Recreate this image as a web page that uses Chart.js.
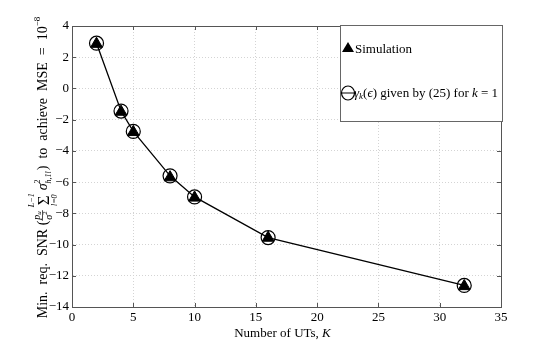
<!DOCTYPE html>
<html>
<head>
<meta charset="utf-8">
<script src="https://cdn.jsdelivr.net/npm/chart.js@4/dist/chart.umd.min.js"></script>
<style>
  html, body { margin: 0; padding: 0; background: #fff; }
  #wrap { width: 554px; height: 346px; }
</style>
</head>
<body>
<div id="wrap"><canvas id="snrChart" width="554" height="346"></canvas></div>
<script>
// data
const unitsK = [2, 4, 5, 8, 10, 16, 32];
const simulationSnr = [2.85, -1.5, -2.8, -5.7, -7.0, -9.57, -12.67];
const analyticSnr = [2.9, -1.45, -2.75, -5.6, -6.95, -9.55, -12.62];
const xTicks = [0, 5, 10, 15, 20, 25, 30, 35];
const yTicks = [-14, -12, -10, -8, -6, -4, -2, 0, 2, 4];

const serif = '"Liberation Serif", "DejaVu Serif", serif';
const setFont = (ctx, size, italic) => {
    ctx.font = `${italic ? 'italic ' : ''}${size}px ${serif}`;
};

// writes a piece of text at (x, dy) and returns its width
const put = (ctx, draw, t, x, size, italic, dy = 0) => {
    setFont(ctx, size, italic);
    if (draw) ctx.fillText(t, x, dy);
    return ctx.measureText(t).width;
};

// y axis title with the little formula, in rotated frame (baseline at 0)
const yTitle = (ctx, draw) => {
    let cx = 0;
    cx += put(ctx, draw, 'Min.  req.  SNR (', cx, 14, false);
    // fraction p_u / sigma^2
    const nw = put(ctx, false, 'p', 0, 10, true) + put(ctx, false, 'u', 0, 7, true);
    const dw = put(ctx, false, 'σ', 0, 10, true) + put(ctx, false, '2', 0, 7, false);
    const fw = Math.max(nw, dw) + 2;
    let nx = cx + (fw - nw) / 2;
    nx += put(ctx, draw, 'p', nx, 10, true, -7.5);
    put(ctx, draw, 'u', nx, 7, true, -6);
    let dx = cx + (fw - dw) / 2;
    dx += put(ctx, draw, 'σ', dx, 10, true, 4.5);
    put(ctx, draw, '2', dx, 7, false, 0);
    if (draw) ctx.fillRect(cx, -5, fw, 0.7);
    cx += fw + 3;
    // sum with limits
    const sw = put(ctx, false, 'Σ', 0, 17, false);
    const tw = put(ctx, false, 'L−1', 0, 8, true);
    const bw = put(ctx, false, 'l=0', 0, 8, true);
    const mw = Math.max(sw, tw, bw);
    put(ctx, draw, 'Σ', cx + (mw - sw) / 2, 17, false, 2);
    put(ctx, draw, 'L−1', cx + (mw - tw) / 2, 8, true, -13);
    put(ctx, draw, 'l=0', cx + (mw - bw) / 2, 8, true, 10);
    cx += mw + 3;
    cx += put(ctx, draw, 'σ', cx, 14, true);
    const a = put(ctx, draw, '2', cx, 8, false, -7);
    const b = put(ctx, draw, 'h,1l', cx, 8, true, 4);
    cx += Math.max(a, b) + 1;
    cx += put(ctx, draw, ')  to  achieve  MSE  =  10', cx, 14, false);
    cx += put(ctx, draw, '−8', cx, 9, false, -7);
    return cx;
};

// frame, inner ticks, titles and legend box
const decorPlugin = {
    id: 'decor',
    afterDraw: (chart) => {
        const { ctx, chartArea: area, scales } = chart;
        ctx.save();
        ctx.strokeStyle = '#555';
        ctx.lineWidth = 1;
        ctx.strokeRect(area.left + 0.5, area.top + 0.5, area.right - area.left, area.bottom - area.top);

        ctx.beginPath();
        xTicks.forEach(v => {
            const px = Math.round(scales.x.getPixelForValue(v)) + 0.5;
            ctx.moveTo(px, area.bottom); ctx.lineTo(px, area.bottom - 4);
            ctx.moveTo(px, area.top); ctx.lineTo(px, area.top + 4);
        });
        yTicks.forEach(v => {
            const py = Math.round(scales.y.getPixelForValue(v)) + 0.5;
            ctx.moveTo(area.left, py); ctx.lineTo(area.left + 4, py);
            ctx.moveTo(area.right, py); ctx.lineTo(area.right - 4, py);
        });
        ctx.stroke();

        ctx.fillStyle = '#000';
        ctx.textBaseline = 'alphabetic';
        ctx.textAlign = 'left';

        // x title
        const w1 = put(ctx, false, 'Number of UTs, ', 0, 13, false);
        const w2 = put(ctx, false, 'K', 0, 13, true);
        let tx = (area.left + area.right) / 2 - (w1 + w2) / 2 - 4;
        tx += put(ctx, true, 'Number of UTs, ', tx, 13, false, 337);
        put(ctx, true, 'K', tx, 13, true, 337);

        // y title
        const total = yTitle(ctx, false);
        ctx.save();
        ctx.translate(47, (area.top + area.bottom) / 2 + 1);
        ctx.rotate(-Math.PI / 2);
        ctx.translate(-total / 2, 0);
        yTitle(ctx, true);
        ctx.restore();

        // legend
        const lx = 340, ly = 25, lw = 162, lh = 96;
        ctx.fillStyle = '#fff';
        ctx.fillRect(lx, ly, lw, lh);
        ctx.strokeStyle = '#666';
        ctx.strokeRect(lx + 0.5, ly + 0.5, lw, lh);
        ctx.fillStyle = '#000';
        // triangle marker
        ctx.beginPath();
        ctx.moveTo(348, 42); ctx.lineTo(354, 52); ctx.lineTo(342, 52);
        ctx.closePath();
        ctx.fill();
        put(ctx, true, 'Simulation', 355, 13, false, 53);
        // circle marker with line
        ctx.strokeStyle = '#000';
        ctx.lineWidth = 1.2;
        ctx.beginPath();
        ctx.ellipse(348, 93, 6.5, 7, 0, 0, Math.PI * 2);
        ctx.moveTo(341, 93); ctx.lineTo(356, 93);
        ctx.stroke();
        let gx = 354;
        gx += put(ctx, true, 'γ', gx, 13, true, 97);
        gx += put(ctx, true, 'k', gx, 9, true, 99);
        gx += put(ctx, true, '(', gx, 13, false, 97);
        gx += put(ctx, true, 'ϵ', gx, 13, true, 97);
        gx += put(ctx, true, ') given by (25) for ', gx, 13, false, 97);
        gx += put(ctx, true, 'k', gx, 13, true, 97);
        put(ctx, true, ' = 1', gx, 13, false, 97);
        ctx.restore();
    }
};

const ctx = document.getElementById('snrChart').getContext('2d');
const snrChart = new Chart(ctx, {
    type: 'scatter',
    data: {
        datasets: [
            {
                label: 'γk(ε) given by (25) for k = 1',
                data: unitsK.map((k, i) => ({ x: k, y: analyticSnr[i] })),
                showLine: true,
                borderColor: '#000',
                borderWidth: 1.3,
                pointStyle: 'circle',
                pointRadius: 7,
                pointBackgroundColor: 'rgba(0,0,0,0)',
                pointBorderColor: '#000',
                pointBorderWidth: 1.2,
                order: 2
            },
            {
                label: 'Simulation',
                data: unitsK.map((k, i) => ({ x: k, y: simulationSnr[i] })),
                showLine: false,
                pointStyle: 'triangle',
                pointRadius: 6.8,
                pointBackgroundColor: '#000',
                pointBorderColor: '#000',
                pointBorderWidth: 1,
                order: 1
            }
        ]
    },
    options: {
        responsive: false,
        animation: false,
        layout: { padding: { left: 0, right: 53, top: 26, bottom: 0 } },
        plugins: {
            legend: { display: false },
            tooltip: { enabled: false }
        },
        scales: {
            x: {
                type: 'linear',
                min: 0,
                max: 35,
                afterFit: (s) => { s.height = 39; },
                afterBuildTicks: (s) => { s.ticks = xTicks.map(v => ({ value: v })); },
                ticks: {
                    color: '#000',
                    padding: 3,
                    font: { family: serif, size: 13 }
                },
                grid: { color: '#d4d4d4', drawTicks: false, tickLength: 0 },
                border: { display: true, color: '#555', dash: [1, 2] }
            },
            y: {
                min: -14,
                max: 4,
                afterFit: (s) => { s.width = 72; },
                afterBuildTicks: (s) => { s.ticks = yTicks.map(v => ({ value: v })); },
                ticks: {
                    color: '#000',
                    padding: 3,
                    font: { family: serif, size: 13 },
                    callback: (v) => String(v).replace('-', '−')
                },
                grid: { color: '#d4d4d4', drawTicks: false, tickLength: 0 },
                border: { display: true, color: '#555', dash: [1, 2] }
            }
        }
    },
    plugins: [decorPlugin]
});
</script>
</body>
</html>
